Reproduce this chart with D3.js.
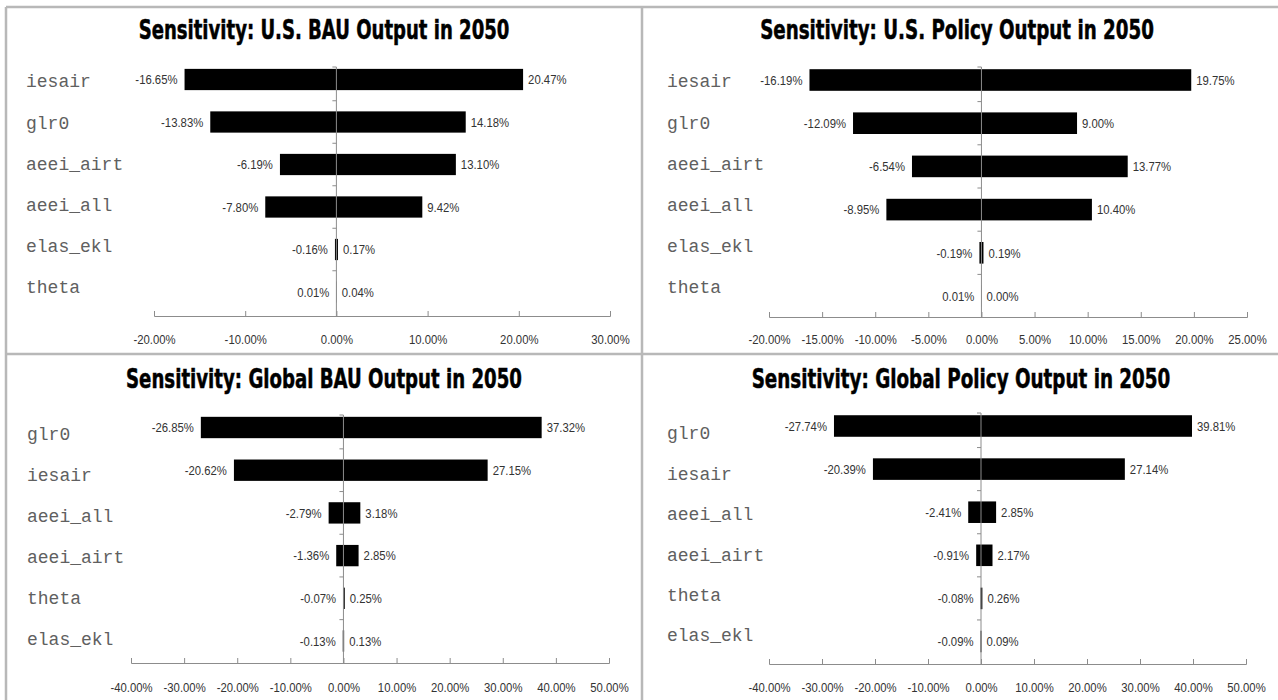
<!DOCTYPE html>
<html><head><meta charset="utf-8">
<script src="https://cdn.jsdelivr.net/npm/d3@7"></script>
<style>
body{margin:0;background:#fff;}
svg{display:block;}
</style></head><body>
<svg id="c" width="1278" height="700"></svg>
<script>
// ---------- DATA ----------
const usBauTitle = "Sensitivity: U.S. BAU Output in 2050";
const usBauCategories = ["iesair","glr0","aeei_airt","aeei_all","elas_ekl","theta"];
const usBauLow  = [-16.65,-13.83,-6.19,-7.80,-0.16,0.01];
const usBauHigh = [20.47,14.18,13.10,9.42,0.17,0.04];
const usBauTicks = [-20,-10,0,10,20,30];

const usPolicyTitle = "Sensitivity: U.S. Policy Output in 2050";
const usPolicyCategories = ["iesair","glr0","aeei_airt","aeei_all","elas_ekl","theta"];
const usPolicyLow  = [-16.19,-12.09,-6.54,-8.95,-0.19,0.01];
const usPolicyHigh = [19.75,9.00,13.77,10.40,0.19,0.00];
const usPolicyTicks = [-20,-15,-10,-5,0,5,10,15,20,25];

const globalBauTitle = "Sensitivity: Global BAU Output in 2050";
const globalBauCategories = ["glr0","iesair","aeei_all","aeei_airt","theta","elas_ekl"];
const globalBauLow  = [-26.85,-20.62,-2.79,-1.36,-0.07,-0.13];
const globalBauHigh = [37.32,27.15,3.18,2.85,0.25,0.13];
const globalBauTicks = [-40,-30,-20,-10,0,10,20,30,40,50];

const globalPolicyTitle = "Sensitivity: Global Policy Output in 2050";
const globalPolicyCategories = ["glr0","iesair","aeei_all","aeei_airt","theta","elas_ekl"];
const globalPolicyLow  = [-27.74,-20.39,-2.41,-0.91,-0.08,-0.09];
const globalPolicyHigh = [39.81,27.14,2.85,2.17,0.26,0.09];
const globalPolicyTicks = [-40,-30,-20,-10,0,10,20,30,40,50];

// ---------- LAYOUT ----------
const panels = [
  {title:usBauTitle, cats:usBauCategories, low:usBauLow, high:usBauHigh, ticks:usBauTicks,
   xr:[154,610], barC0:79.5, barStep:42.5, zeroTop:67, axisY:316, tickLabY:338,
   labX:26, labY:[81,287], titleX:324, titleY:39, titleW:371},
  {title:usPolicyTitle, cats:usPolicyCategories, low:usPolicyLow, high:usPolicyHigh, ticks:usPolicyTicks,
   xr:[769,1247], barC0:80, barStep:43.2, zeroTop:67, axisY:317, tickLabY:338,
   labX:667, labY:[81,287], titleX:957, titleY:39, titleW:394},
  {title:globalBauTitle, cats:globalBauCategories, low:globalBauLow, high:globalBauHigh, ticks:globalBauTicks,
   xr:[131,609], barC0:427.5, barStep:42.7, zeroTop:415, axisY:663, tickLabY:686,
   labX:27, labY:[434,639], titleX:324, titleY:388, titleW:396},
  {title:globalPolicyTitle, cats:globalPolicyCategories, low:globalPolicyLow, high:globalPolicyHigh, ticks:globalPolicyTicks,
   xr:[769,1246], barC0:426, barStep:43.1, zeroTop:413, axisY:664, tickLabY:686,
   labX:667, labY:[433,635], titleX:961, titleY:388, titleW:419}
];

const svg = d3.select("#c");
const fmt = v => d3.format(".2f")(v).replace("\u2212","-") + "%";
const numFont = "'Liberation Sans',Arial,sans-serif";
const NUM_SIZE = 13.5, NUM_SX = 0.84, NUM_COL = "#333";

// frame lines
const frame = svg.append("g").attr("stroke","#b8b8b8").attr("stroke-width",2.5).attr("fill","none");
frame.append("line").attr("x1",6).attr("y1",7).attr("x2",1278).attr("y2",7);
frame.append("line").attr("x1",6).attr("y1",7).attr("x2",6).attr("y2",700);
frame.append("line").attr("x1",642).attr("y1",7).attr("x2",642).attr("y2",700);
frame.append("line").attr("x1",6).attr("y1",354).attr("x2",1278).attr("y2",354);

panels.forEach(p => {
  const g = svg.append("g");
  const dom = d3.extent(p.ticks);
  const x = d3.scaleLinear().domain(dom).range(p.xr);
  const y = d3.scaleBand().domain(p.cats)
     .range([p.barC0 - 0.5*p.barStep, p.barC0 + 5.5*p.barStep])
     .paddingInner(0.5).paddingOuter(0.25);
  const yl = d3.scalePoint().domain(p.cats).range(p.labY);
  const rows = p.cats.map((c,i) => ({c, lo:p.low[i], hi:p.high[i]}));

  // title (condensed by horizontal scale to the reference width)
  const t = g.append("text").attr("x",0).attr("y",0)
    .attr("text-anchor","middle")
    .attr("font-family","'DejaVu Sans Condensed','DejaVu Sans',sans-serif")
    .attr("font-weight","bold").attr("font-size",27)
    .attr("stroke","#000").attr("stroke-width",0.5)
    .text(p.title);
  const natural = t.node().getComputedTextLength();
  t.attr("transform",`translate(${p.titleX},${p.titleY}) scale(${p.titleW/natural},1)`);

  // x axis
  const ax = g.append("g").attr("transform",`translate(0,${p.axisY})`)
    .call(d3.axisBottom(x).tickValues(p.ticks).tickSize(-5).tickSizeOuter(-5).tickFormat(fmt).tickPadding(p.tickLabY - p.axisY - 4));
  ax.select(".domain").attr("stroke","#8c8c8c");
  ax.selectAll(".tick line").attr("stroke","#8c8c8c");
  ax.selectAll(".tick text").attr("font-family",numFont).attr("font-size",NUM_SIZE).attr("fill",NUM_COL)
    .attr("transform",`scale(${NUM_SX},1)`);

  // bars
  g.selectAll("rect.bar").data(rows).join("rect").attr("class","bar")
    .attr("x",d => x(Math.min(0,d.lo,d.hi)))
    .attr("width",d => Math.max(0.3, x(Math.max(0,d.lo,d.hi)) - x(Math.min(0,d.lo,d.hi))))
    .attr("y",d => y(d.c)).attr("height",y.bandwidth())
    .attr("fill","#000");

  // zero axis
  g.append("line").attr("x1",x(0)).attr("x2",x(0)).attr("y1",p.zeroTop).attr("y2",p.axisY)
    .attr("stroke","#8c8c8c").attr("stroke-width",1);
  const bounds = [p.zeroTop].concat(p.cats.slice(1).map(c => y(c) - y.step()*y.paddingInner()/2));
  g.selectAll("line.ctick").data(bounds).join("line").attr("class","ctick")
    .attr("x1",x(0)-4).attr("x2",x(0)).attr("y1",d=>d).attr("y2",d=>d)
    .attr("stroke","#8c8c8c");

  // value labels
  g.selectAll("text.lo").data(rows).join("text").attr("class","lo")
    .attr("transform",d => `translate(${x(Math.min(0,d.lo)) - 7},${y(d.c) + y.bandwidth()/2}) scale(${NUM_SX},1)`)
    .attr("dy","0.35em")
    .attr("text-anchor","end").attr("font-family",numFont).attr("font-size",NUM_SIZE).attr("fill",NUM_COL)
    .text(d => fmt(d.lo));
  g.selectAll("text.hi").data(rows).join("text").attr("class","hi")
    .attr("transform",d => `translate(${x(Math.max(0,d.hi)) + 5},${y(d.c) + y.bandwidth()/2}) scale(${NUM_SX},1)`)
    .attr("dy","0.35em")
    .attr("text-anchor","start").attr("font-family",numFont).attr("font-size",NUM_SIZE).attr("fill",NUM_COL)
    .text(d => fmt(d.hi));

  // category labels
  g.selectAll("text.cat").data(p.cats).join("text").attr("class","cat")
    .attr("x",p.labX).attr("y",d => yl(d)).attr("dy","0.35em")
    .attr("font-family","'Liberation Mono','Courier New',monospace").attr("font-size",18)
    .attr("fill","#606060")
    .text(d => d);
});
</script>
</body></html>
